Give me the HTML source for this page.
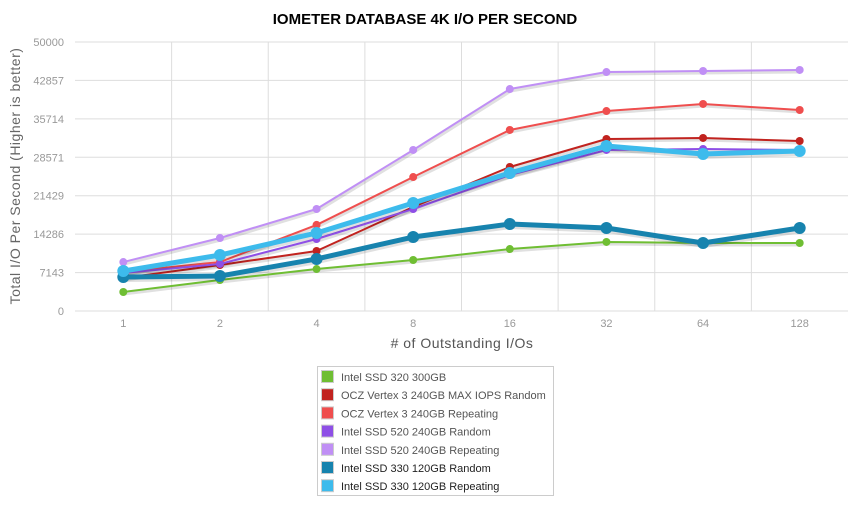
<!DOCTYPE html>
<html><head><meta charset="utf-8"><style>
body{margin:0;background:#fff;font-family:"Liberation Sans",sans-serif}
</style></head><body>
<svg width="850" height="522" xmlns="http://www.w3.org/2000/svg" id="chart">
<text x="425" y="24" text-anchor="middle" font-weight="bold" font-size="15" fill="#000">IOMETER DATABASE 4K I/O PER SECOND</text>
<g id="grid"></g><g id="series"></g>
<text transform="translate(20,176) rotate(-90)" text-anchor="middle" font-size="14" fill="#666" letter-spacing="0.5">Total I/O Per Second (Higher is better)</text>
<text x="462" y="348" text-anchor="middle" font-size="14" fill="#555" letter-spacing="0.5">#  of Outstanding I/Os</text>
<g id="legend"></g>
</svg>
<script>
const categories=["1","2","4","8","16","32","64","128"];
const yTicks=[0,7143,14286,21429,28571,35714,42857,50000];
const seriesNames=["Intel SSD 320 300GB","OCZ Vertex 3 240GB MAX IOPS Random","OCZ Vertex 3 240GB Repeating","Intel SSD 520 240GB Random","Intel SSD 520 240GB Repeating","Intel SSD 330 120GB Random","Intel SSD 330 120GB Repeating"];
const seriesColors=["#6fbe33","#c1231f","#ef4e4e","#8e4fe6","#c08ff5","#1783ae","#3dbbec"];
const intel320=[3530,5760,7800,9480,11520,12830,12640,12640];
const ocz3Random=[6130,8550,11150,19330,26770,31970,32160,31600];
const ocz3Repeat=[7250,9100,16000,24900,33650,37170,38480,37360];
const intel520Random=[7060,8740,13380,18960,25280,29930,30110,29930];
const intel520Repeat=[9100,13570,18960,29930,41260,44420,44610,44800];
const intel330Random=[6320,6500,9670,13750,16170,15430,12640,15430];
const intel330Repeat=[7430,10400,14500,20070,25650,30670,29180,29740];
const seriesData=[intel320,ocz3Random,ocz3Repeat,intel520Random,intel520Repeat,intel330Random,intel330Repeat];
const widths=[2,2,2,2,2,5,5], radii=[4,4,4,4,4,6,6];
const NS="http://www.w3.org/2000/svg";
const L=75,R=848,T=42,B=311,bw=(R-L)/categories.length;
const x=i=>L+bw*(i+0.5), y=v=>B-(v/50000)*(B-T);
function mk(t,a,p){const e=document.createElementNS(NS,t);for(const k in a)e.setAttribute(k,a[k]);p.appendChild(e);return e;}
const grid=document.getElementById('grid');
yTicks.forEach(v=>{
 const l=mk('line',{x1:L,x2:R,y1:y(v),y2:y(v),stroke:'#ddd','stroke-width':1},grid);
 
 
 const t=mk('text',{x:64,y:y(v)+4,'text-anchor':'end','font-size':11,fill:'#999'},grid);t.textContent=v;
 
 
});
for(let i=1;i<categories.length;i++){
 const l=mk('line',{x1:L+bw*i,x2:L+bw*i,y1:T,y2:B,stroke:'#ddd','stroke-width':1},grid);
 
 
}
categories.forEach((c,i)=>{
 const t=mk('text',{x:x(i),y:327,'text-anchor':'middle','font-size':11,fill:'#999'},grid);t.textContent=c;
 
 
});
const sg=document.getElementById('series');
seriesData.forEach((d,s)=>{
 const g=mk('g',{},sg);
 
 
 const pts=d.map((v,i)=>x(i)+','+y(v)).join(' ');
 mk('polyline',{points:d.map((v,i)=>(x(i)+1)+','+(y(v)+2)).join(' '),fill:'none',stroke:'rgba(0,0,0,0.12)','stroke-width':widths[s]+1},g);
 const pl=mk('polyline',{points:pts,fill:'none',stroke:seriesColors[s],'stroke-width':widths[s],'stroke-linejoin':'round'},g);
 
 
 d.forEach((v,i)=>{
  const c=mk('circle',{cx:x(i),cy:y(v),r:radii[s],fill:seriesColors[s]},g);
  
  
 });
});
const lg=document.getElementById('legend');
mk('rect',{x:317.5,y:366.5,width:236,height:129,fill:'#fff',stroke:'#ccc'},lg);
seriesNames.forEach((n,s)=>{
 const yy=370+s*18.2;
 const r=mk('rect',{x:321.5,y:yy+0.5,width:12,height:12,fill:seriesColors[s],stroke:'#ccc'},lg);
 
 
 const t=mk('text',{x:341,y:yy+11,'font-size':11,fill:s>=5?'#222':'#555'},lg);t.textContent=n;
 
 
});
</script>
</body></html>
